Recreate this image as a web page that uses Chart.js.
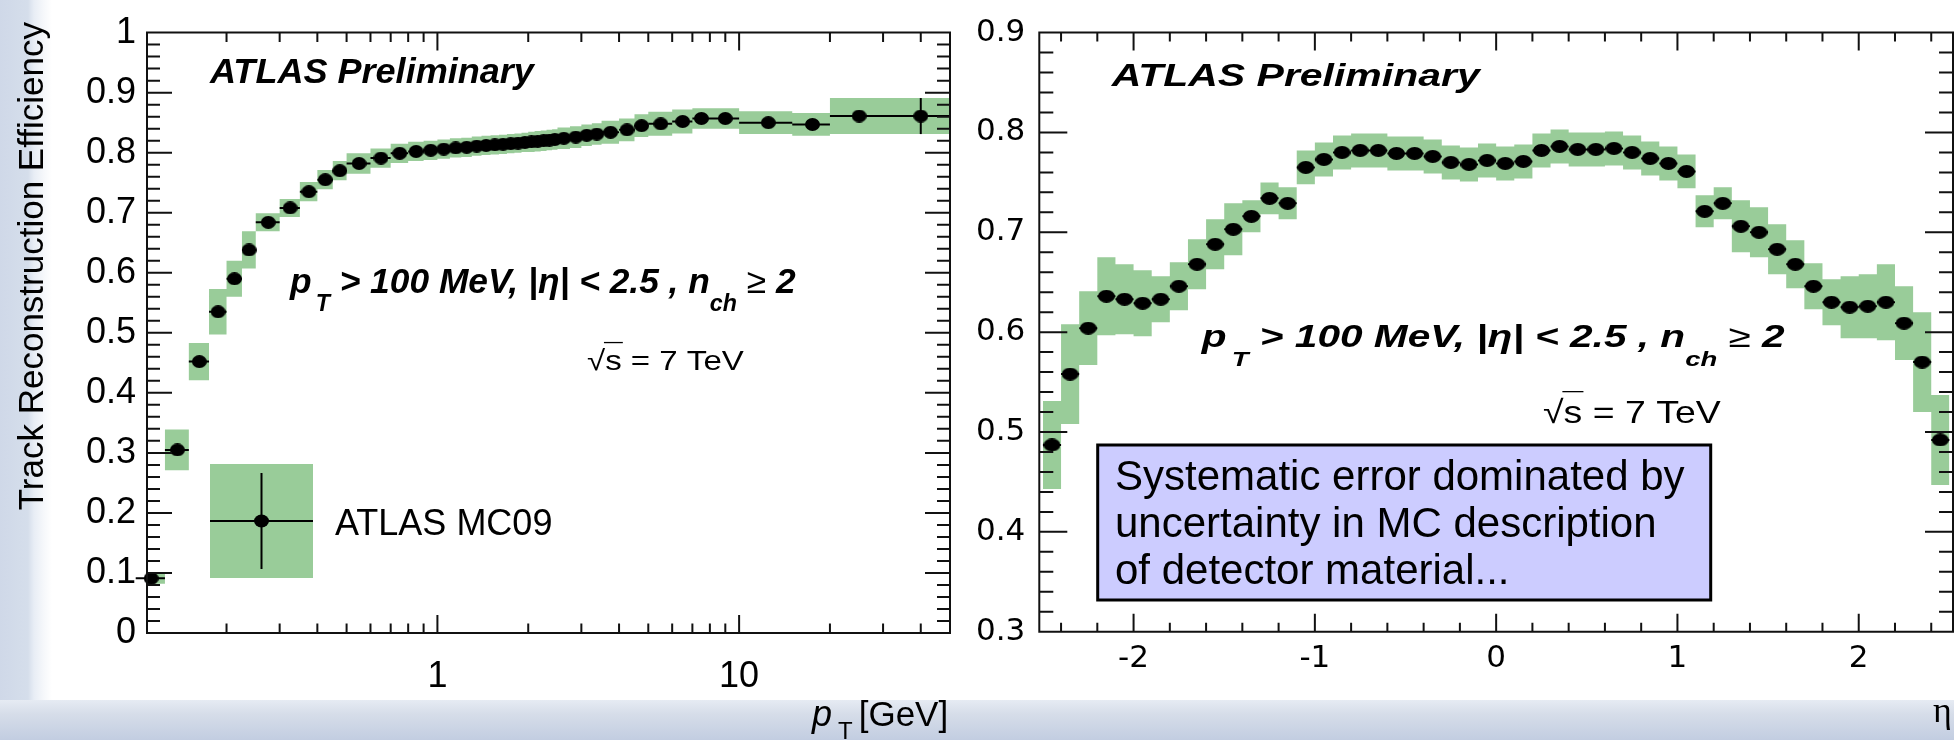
<!DOCTYPE html>
<html>
<head>
<meta charset="utf-8">
<script src="https://cdn.jsdelivr.net/npm/chart.js@4.4.1/dist/chart.umd.min.js"></script>
<style>
  html, body { margin: 0; padding: 0; width: 1954px; height: 740px; overflow: hidden; background: #fff; }
  #stripL { position: absolute; left: 0; top: 0; width: 52px; height: 740px;
    background: linear-gradient(to right, #cfd8e8 0, #d5deeb 28px, #e8edf5 34px, #f6f8fb 44px, #fff 52px); }
  #band { position: absolute; left: 0; top: 700px; width: 1954px; height: 40px;
    background: linear-gradient(to bottom, #e6ebf3 0, #d6dde9 35%, #c2cde1 100%); }
  canvas { position: absolute; top: 0; }
  #ptChart { left: 0; }
  #etaChart { left: 960px; }
</style>
</head>
<body>
<div id="stripL"></div>
<div id="band"></div>
<canvas id="ptChart" width="960" height="740"></canvas>
<canvas id="etaChart" width="1000" height="740"></canvas>
<script>
(function () {
  "use strict";

  // ---- left panel: efficiency vs pT (bin edges in GeV) ----
  var ptEdges = [0.1, 0.125, 0.15, 0.175, 0.2, 0.225, 0.25, 0.3, 0.35, 0.4, 0.45, 0.5,
    0.6, 0.7, 0.8, 0.9, 1.0, 1.1, 1.2, 1.3, 1.4, 1.5, 1.6, 1.7, 1.8, 1.9, 2.0, 2.1,
    2.2, 2.3, 2.4, 2.5, 2.75, 3.0, 3.25, 3.5, 4.0, 4.5, 5, 6, 7, 8, 10, 15, 20, 30, 50];
  var ptEff = [0.091, 0.305, 0.452, 0.535, 0.590, 0.638, 0.684, 0.708, 0.735, 0.755,
    0.770, 0.782, 0.791, 0.799, 0.802, 0.804, 0.806, 0.808, 0.809, 0.811, 0.812, 0.813,
    0.814, 0.815, 0.816, 0.817, 0.818, 0.819, 0.820, 0.821, 0.822, 0.824, 0.826, 0.829,
    0.831, 0.834, 0.838, 0.845, 0.848, 0.852, 0.857, 0.857, 0.850, 0.847, 0.861, 0.861];
  var ptSyst = [0.009, 0.034, 0.031, 0.038, 0.030, 0.031, 0.015, 0.015, 0.016, 0.016,
    0.016, 0.017, 0.016, 0.016, 0.016, 0.016, 0.016, 0.016, 0.016, 0.016, 0.016, 0.016,
    0.016, 0.016, 0.016, 0.016, 0.017, 0.017, 0.017, 0.017, 0.017, 0.018, 0.018, 0.018,
    0.018, 0.019, 0.019, 0.019, 0.020, 0.020, 0.017, 0.017, 0.019, 0.019, 0.030, 0.030];
  var ptStat = [0, 0, 0, 0, 0, 0, 0, 0, 0, 0, 0, 0, 0, 0, 0, 0, 0, 0, 0, 0, 0, 0, 0, 0,
    0, 0, 0, 0, 0, 0, 0, 0, 0, 0, 0, 0, 0, 0, 0, 0, 0, 0, 0, 0, 0, 0.03];
  var ptTickLabels = [1, 10];
  var ptMinorTicks = [0.2, 0.3, 0.4, 0.5, 0.6, 0.7, 0.8, 0.9, 2, 3, 4, 5, 6, 7, 8, 9, 20, 30, 40];
  var effTickLabels = [0, 0.1, 0.2, 0.3, 0.4, 0.5, 0.6, 0.7, 0.8, 0.9, 1];

  // ---- right panel: efficiency vs eta ----
  var etaCenters = [-2.45, -2.35, -2.25, -2.15, -2.05, -1.95, -1.85, -1.75, -1.65, -1.55,
    -1.45, -1.35, -1.25, -1.15, -1.05, -0.95, -0.85, -0.75, -0.65, -0.55, -0.45, -0.35,
    -0.25, -0.15, -0.05, 0.05, 0.15, 0.25, 0.35, 0.45, 0.55, 0.65, 0.75, 0.85, 0.95,
    1.05, 1.15, 1.25, 1.35, 1.45, 1.55, 1.65, 1.75, 1.85, 1.95, 2.05, 2.15, 2.25, 2.35, 2.45];
  var etaEff = [0.487, 0.558, 0.604, 0.636, 0.633, 0.629, 0.633, 0.646, 0.668, 0.688,
    0.703, 0.716, 0.734, 0.729, 0.765, 0.773, 0.780, 0.782, 0.782, 0.779, 0.779, 0.776,
    0.770, 0.768, 0.772, 0.769, 0.771, 0.782, 0.786, 0.783, 0.783, 0.784, 0.780, 0.774,
    0.769, 0.761, 0.721, 0.729, 0.706, 0.700, 0.683, 0.668, 0.646, 0.630, 0.625, 0.626,
    0.630, 0.609, 0.570, 0.492];
  var etaSyst = [0.044, 0.050, 0.037, 0.039, 0.035, 0.033, 0.023, 0.024, 0.025, 0.025,
    0.026, 0.016, 0.016, 0.016, 0.017, 0.017, 0.017, 0.017, 0.017, 0.017, 0.017, 0.017,
    0.017, 0.017, 0.017, 0.017, 0.017, 0.017, 0.017, 0.017, 0.017, 0.017, 0.017, 0.017,
    0.017, 0.017, 0.016, 0.016, 0.026, 0.025, 0.025, 0.024, 0.023, 0.023, 0.031, 0.032,
    0.038, 0.037, 0.050, 0.045];
  var etaBinWidth = 0.1;
  var etaTickLabels = [-2, -1, 0, 1, 2];
  var effEtaTickLabels = [0.3, 0.4, 0.5, 0.6, 0.7, 0.8, 0.9];

  var GREEN = "#99cc99";
  var LS = "'Liberation Sans', Arial, sans-serif";
  var DV = "'DejaVu Sans', sans-serif";

  function dotImage(w, h) {
    var c = document.createElement("canvas");
    c.width = w;
    c.height = h;
    var g = c.getContext("2d");
    g.fillStyle = "#000";
    g.beginPath();
    g.ellipse(w / 2, h / 2, w / 2, h / 2, 0, 0, 2 * Math.PI);
    g.fill();
    return c;
  }

  // boxes (syst), horizontal bin bars, vertical stat bars and markers
  function histSets(lo, hi, val, syst, stat, img) {
    var up = [], dn = [], hbar = [], vbar = [], pts = [];
    for (var i = 0; i < val.length; i++) {
      var c = (lo[i] + hi[i]) / 2;
      up.push({ x: lo[i], y: val[i] + syst[i] });
      dn.push({ x: lo[i], y: val[i] - syst[i] });
      hbar.push({ x: lo[i], y: val[i] }, { x: hi[i], y: val[i] }, { x: hi[i], y: null });
      if (stat[i] > 0) {
        vbar.push({ x: c, y: val[i] - stat[i] }, { x: c, y: val[i] + stat[i] }, { x: c, y: null });
      }
      pts.push({ x: c, y: val[i] });
    }
    var n = val.length - 1;
    up.push({ x: hi[n], y: val[n] + syst[n] });
    dn.push({ x: hi[n], y: val[n] - syst[n] });
    return [
      { data: pts, showLine: false, pointStyle: img, pointRadius: 6, order: 0, clip: false },
      { data: hbar, borderColor: "#000", borderWidth: 2, pointRadius: 0, spanGaps: false, order: 1, clip: false },
      { data: vbar, borderColor: "#000", borderWidth: 2, pointRadius: 0, spanGaps: false, order: 2, clip: false },
      { data: up, stepped: "before", fill: "+1", backgroundColor: GREEN, borderColor: "rgba(0,0,0,0)",
        borderWidth: 0, pointRadius: 0, order: 3, clip: false },
      { data: dn, stepped: "before", fill: false, borderColor: "rgba(0,0,0,0)",
        borderWidth: 0, pointRadius: 0, order: 4, clip: false }
    ];
  }

  function frame(chart, t) {
    var ctx = chart.ctx, a = chart.chartArea, sx = chart.scales.x, sy = chart.scales.y;
    ctx.save();
    ctx.strokeStyle = "#111";
    ctx.lineWidth = 2;
    ctx.beginPath();
    ctx.rect(a.left, a.top, a.right - a.left, a.bottom - a.top);
    function xt(v, l) {
      var p = sx.getPixelForValue(v);
      ctx.moveTo(p, a.bottom); ctx.lineTo(p, a.bottom - l);
      ctx.moveTo(p, a.top); ctx.lineTo(p, a.top + l);
    }
    function yt(v, l) {
      var p = sy.getPixelForValue(v);
      ctx.moveTo(a.left, p); ctx.lineTo(a.left + l, p);
      ctx.moveTo(a.right, p); ctx.lineTo(a.right - l, p);
    }
    t.xMajor.forEach(function (v) { xt(v, t.xl); });
    t.xMinor.forEach(function (v) { xt(v, t.xs); });
    for (var i = Math.round(sy.min / 0.02); i <= Math.round(sy.max / 0.02); i++) {
      yt(i * 0.02, i % 5 === 0 ? t.yl : t.ys);
    }
    ctx.stroke();
    ctx.restore();
  }

  // runs: [text, font, dy, gapAfter]
  function rich(ctx, x, y, runs, sx) {
    ctx.save();
    ctx.translate(x, y);
    ctx.scale(sx || 1, 1);
    ctx.fillStyle = "#000";
    ctx.textAlign = "left";
    ctx.textBaseline = "alphabetic";
    var cx = 0;
    runs.forEach(function (r) {
      ctx.font = r[1];
      ctx.fillText(r[0], cx, r[2] || 0);
      cx += ctx.measureText(r[0]).width + (r[3] || 0);
    });
    ctx.restore();
  }

  function sqrtS(ctx, x, y, size, sx) {
    ctx.save();
    ctx.translate(x, y);
    ctx.scale(sx, 1);
    ctx.font = size + "px " + LS;
    ctx.fillStyle = "#000";
    ctx.textBaseline = "alphabetic";
    ctx.fillText("\u221As = 7 TeV", 0, 0);
    var w1 = ctx.measureText("\u221A").width, w2 = ctx.measureText("s").width;
    ctx.strokeStyle = "#000";
    ctx.lineWidth = 1.3;
    ctx.beginPath();
    ctx.moveTo(w1 - 1, -size * 0.98);
    ctx.lineTo(w1 + w2 + 1, -size * 0.98);
    ctx.stroke();
    ctx.restore();
  }

  function cutText(ctx, x, y, f, s, dy, sx) {
    var BI = "italic bold " + f + "px " + LS;
    var SB = "italic bold " + s + "px " + LS;
    rich(ctx, x, y, [
      ["p", BI, 0, 4], ["T", SB, dy, 0],
      [" > 100 MeV, |\u03B7| < 2.5 , n", BI], ["ch", SB, dy],
      [" \u2265 ", "italic " + f + "px " + LS], ["2", BI]
    ], sx);
  }

  function axisOpts(type, min, max, labels, font, pad, size, fmt) {
    return {
      type: type, min: min, max: max, bounds: "data",
      grid: { display: false, drawTicks: false },
      border: { display: false },
      afterBuildTicks: function (s) { s.ticks = labels.map(function (v) { return { value: v }; }); },
      afterFit: function (s) { if (s.isHorizontal()) { s.height = size; } else { s.width = size; } },
      ticks: { font: font, color: "#000", padding: pad, maxRotation: 0, autoSkip: false, callback: fmt }
    };
  }
  function fmt1(v) { return String(Math.round(v * 10) / 10); }

  var base = {
    responsive: false, animation: false, devicePixelRatio: 1, events: [],
    plugins: { legend: { display: false }, tooltip: { enabled: false } }
  };

  // ---------- pT chart ----------
  var ptLo = ptEdges.slice(0, -1), ptHi = ptEdges.slice(1);
  var ctx1 = document.getElementById("ptChart").getContext("2d");
  var chart1 = new Chart(ctx1, {
    type: "line",
    data: { datasets: histSets(ptLo, ptHi, ptEff, ptSyst, ptStat, dotImage(15, 13)) },
    options: Object.assign({}, base, {
      layout: { padding: { left: 0, top: 24, right: 10, bottom: 0 } },
      scales: {
        x: axisOpts("logarithmic", 0.109, 50, ptTickLabels, { family: LS, size: 36 }, 22, 107,
          function (v) { return String(v); }),
        y: axisOpts("linear", 0, 1, effTickLabels, { family: LS, size: 36 }, 11, 147, fmt1)
      }
    }),
    plugins: [{
      id: "ptDecor",
      afterDraw: function (chart) {
        var ctx = chart.ctx;
        frame(chart, { xMajor: ptTickLabels, xMinor: ptMinorTicks, xl: 18, xs: 9.5, yl: 25, ys: 13 });
        rich(ctx, 210, 83, [["ATLAS Preliminary", "italic bold 35px " + LS]], 1.03);
        cutText(ctx, 290, 293, 35, 23, 18, 1.01);
        sqrtS(ctx, 587, 370, 28, 1.18);
        // legend
        ctx.save();
        ctx.fillStyle = GREEN;
        ctx.fillRect(210, 464, 103, 114);
        ctx.strokeStyle = "#000";
        ctx.lineWidth = 2;
        ctx.beginPath();
        ctx.moveTo(210, 521); ctx.lineTo(313, 521);
        ctx.moveTo(261.5, 473); ctx.lineTo(261.5, 569);
        ctx.stroke();
        ctx.fillStyle = "#000";
        ctx.beginPath();
        ctx.ellipse(261.5, 521, 7.5, 6.5, 0, 0, 2 * Math.PI);
        ctx.fill();
        ctx.restore();
        rich(ctx, 335, 535, [["ATLAS MC09", "36px " + LS]]);
        // axis titles
        ctx.save();
        ctx.translate(43, 22);
        ctx.rotate(-Math.PI / 2);
        ctx.font = "35px " + LS;
        ctx.fillStyle = "#000";
        ctx.textAlign = "right";
        ctx.fillText("Track Reconstruction Efficiency", 0, 0);
        ctx.restore();
        rich(ctx, 812, 726, [["p", "italic 36px " + LS, 0, 6], ["T", "24px " + LS, 13, 6], ["[GeV]", "35px " + LS]]);
      }
    }]
  });

  // ---------- eta chart ----------
  var etaLo = etaCenters.map(function (c) { return c - etaBinWidth / 2; });
  var etaHi = etaCenters.map(function (c) { return c + etaBinWidth / 2; });
  var etaStat = etaCenters.map(function () { return 0; });
  var etaMinor = [];
  for (var k = -12; k <= 12; k++) { if (k % 5 !== 0) { etaMinor.push(k * 0.2); } }
  var ctx2 = document.getElementById("etaChart").getContext("2d");
  var chart2 = new Chart(ctx2, {
    type: "line",
    data: { datasets: histSets(etaLo, etaHi, etaEff, etaSyst, etaStat, dotImage(17, 13)) },
    options: Object.assign({}, base, {
      layout: { padding: { left: 0, top: 25, right: 4.4, bottom: 0 } },
      scales: {
        x: axisOpts("linear", -2.52, 2.52, etaTickLabels, { family: DV, size: 31 }, 9, 108.3,
          function (v) { return String(v); }),
        y: axisOpts("linear", 0.3, 0.9, effEtaTickLabels, { family: DV, size: 31 }, 14, 79.3, fmt1)
      }
    }),
    plugins: [{
      id: "etaDecor",
      afterDraw: function (chart) {
        var ctx = chart.ctx;
        frame(chart, { xMajor: etaTickLabels, xMinor: etaMinor, xl: 18, xs: 9, yl: 28, ys: 14 });
        rich(ctx, 151.7, 86, [["ATLAS Preliminary", "italic bold 32px " + LS]], 1.28);
        cutText(ctx, 241.7, 347, 31, 21, 19, 1.31);
        sqrtS(ctx, 583, 423, 32, 1.17);
        // info box
        ctx.save();
        ctx.fillStyle = "#ccccff";
        ctx.fillRect(137.7, 445, 613, 155);
        ctx.strokeStyle = "#000";
        ctx.lineWidth = 3;
        ctx.strokeRect(137.7, 445, 613, 155);
        ctx.restore();
        rich(ctx, 155, 490, [["Systematic error dominated by", "42px " + LS]]);
        rich(ctx, 155, 537, [["uncertainty in MC description", "42px " + LS]]);
        rich(ctx, 155, 584, [["of detector material...", "42px " + LS]]);
        rich(ctx, 973, 722, [["\u03B7", "36px 'Liberation Serif', serif"]]);
      }
    }]
  });
})();
</script>
</body>
</html>
